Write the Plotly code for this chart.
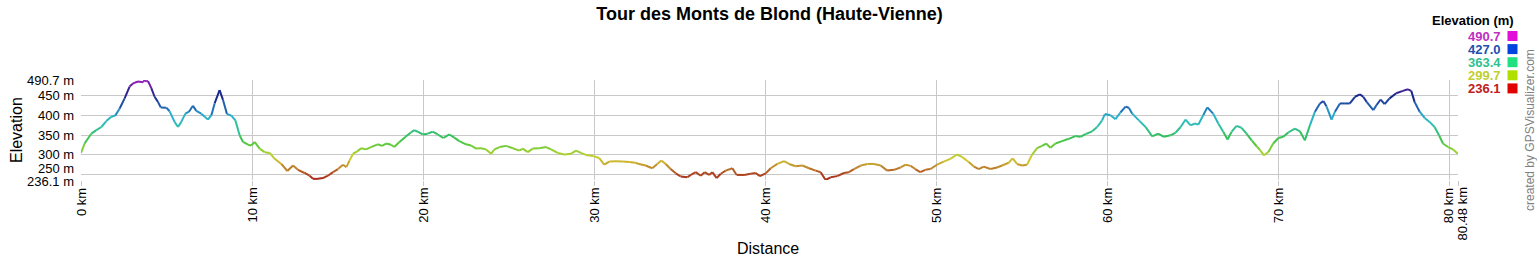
import plotly.graph_objects as go
from plotly.colors import sample_colorscale

# ---- data ----
dist_km = [0.0, 0.21, 0.6, 0.9, 1.19, 1.48, 1.77, 2.0, 2.26, 2.55, 2.84, 3.04, 3.33, 3.62, 3.72, 3.82, 3.92,
           4.11, 4.3, 4.5, 4.66, 4.99, 5.18, 5.47, 5.67, 5.86, 6.1, 6.31, 6.54, 6.74, 7.03, 7.23, 7.42, 7.62,
           7.81, 8.1, 8.3, 8.53, 8.79, 9.02, 9.27, 9.47, 9.76, 9.95, 10.15, 10.44, 10.73, 11.03, 11.32, 11.71,
           12.06, 12.39, 12.68, 13.07, 13.36, 13.56, 13.85, 14.14, 14.43, 14.73, 15.02, 15.31, 15.51, 15.7,
           15.9, 16.15, 16.37, 16.66, 16.95, 17.34, 17.59, 17.83, 18.12, 18.31, 18.61, 18.99, 19.28, 19.48,
           19.68, 19.97, 20.26, 20.55, 20.85, 21.18, 21.53, 21.82, 22.11, 22.5, 22.8, 23.09, 23.38, 23.67,
           23.97, 24.17, 24.46, 24.85, 25.24, 25.62, 25.82, 26.11, 26.4, 26.79, 27.18, 27.47, 27.86, 28.25,
           28.64, 28.93, 29.22, 29.51, 29.94, 30.29, 30.58, 30.88, 31.27, 31.66, 32.05, 32.4, 32.61, 33.0,
           33.39, 33.68, 33.92, 34.17, 34.46, 34.76, 35.05, 35.44, 35.64, 35.93, 36.22, 36.45, 36.71, 36.9,
           37.15, 37.39, 37.68, 38.07, 38.32, 38.75, 39.14, 39.43, 39.68, 40.02, 40.31, 40.7, 41.09, 41.38,
           41.77, 42.16, 42.55, 42.94, 43.23, 43.52, 43.81, 44.2, 44.59, 44.88, 45.18, 45.57, 45.96, 46.35,
           46.74, 47.12, 47.51, 47.9, 48.2, 48.49, 48.76, 49.05, 49.35, 49.64, 50.03, 50.42, 50.81, 51.2,
           51.49, 51.88, 52.17, 52.47, 52.76, 53.15, 53.54, 53.83, 54.22, 54.45, 54.71, 55.0, 55.29, 55.58,
           55.88, 56.17, 56.41, 56.66, 56.95, 57.34, 57.73, 58.12, 58.41, 58.71, 59.1, 59.39, 59.68, 59.84,
           60.17, 60.46, 60.75, 61.05, 61.24, 61.44, 61.83, 62.22, 62.61, 62.96, 63.29, 63.68, 63.98, 64.27,
           64.56, 64.85, 65.1, 65.3, 65.59, 65.83, 66.17, 66.47, 66.76, 67.01, 67.25, 67.54, 67.83, 68.12,
           68.42, 68.71, 68.91, 69.14, 69.39, 69.68, 69.98, 70.27, 70.56, 70.95, 71.24, 71.53, 71.83, 72.12,
           72.41, 72.61, 72.8, 73.09, 73.29, 73.58, 73.87, 74.16, 74.46, 74.75, 74.94, 75.14, 75.53, 75.72,
           75.96, 76.19, 76.48, 76.87, 77.26, 77.55, 77.75, 77.94, 78.24, 78.53, 78.82, 79.11, 79.37, 79.6,
           79.9, 80.19, 80.48]
elev_m = [305, 329, 354, 363, 371, 386, 397, 400, 418, 444, 474, 482, 487, 485, 490.7, 487, 488,
          470, 448, 435, 421, 420, 411, 384, 371, 384, 405, 410, 425, 412, 405, 397, 390, 401,
          431, 465, 440, 404, 400, 388, 350, 333, 326, 324, 333, 316, 307, 305, 290, 277,
          259, 273, 262, 254, 247, 239, 239, 241, 247, 256, 264, 275, 269, 286,
          303, 309, 317, 314, 320, 327, 323, 329, 326, 320, 333, 347, 357, 363,
          359, 352, 354, 359, 352, 343, 352, 344, 335, 327, 324, 316, 317, 314,
          303, 314, 320, 323, 317, 311, 316, 307, 316, 317, 320, 314, 305, 301,
          303, 311, 305, 300, 297, 292, 275, 283, 284, 283, 282, 280, 277, 273,
          266, 277, 286, 277, 264, 253, 245, 243, 249, 256, 247, 256, 249, 256,
          241, 252, 260, 266, 249, 249, 252, 254, 246, 253, 266, 277, 284, 277,
          271, 273, 266, 260, 256, 236.1, 243, 246, 254, 256, 264, 273, 277, 277,
          273, 260, 262, 268, 275, 272, 264, 256, 262, 264, 275, 283, 290, 301,
          295, 282, 271, 264, 270, 264, 268, 273, 280, 291, 277, 273, 275, 300,
          317, 323, 329, 318, 329, 335, 341, 348, 346, 353, 360, 371, 388, 404,
          401, 391, 408, 423, 420, 405, 388, 371, 347, 354, 346, 350, 357, 371,
          390, 375, 380, 377, 401, 421, 405, 380, 359, 339, 359, 374, 369, 354,
          337, 322, 312, 299, 307, 329, 343, 346, 357, 367, 360, 337, 376, 410,
          431, 437, 423, 390, 410, 431, 431, 431, 448, 454, 448, 435, 414, 427,
          441, 429, 444, 457, 463, 467, 463, 435, 410, 394, 384, 371, 350, 329,
          320, 314, 303]

x_ticks = [0, 10, 20, 30, 40, 50, 60, 70, 80, 80.48]
x_tick_text = ["0 km", "10 km", "20 km", "30 km", "40 km", "50 km", "60 km", "70 km", "80 km", "80.48 km"]
y_ticks = [236.1, 250, 300, 350, 400, 450, 490.7]
y_tick_text = ["236.1 m", "250 m", "300 m", "350 m", "400 m", "450 m", "490.7 m"]
legend_values = [490.7, 427.0, 363.4, 299.7, 236.1]

# ---- styling ----
FONT = "Arial, Liberation Sans, sans-serif"
line_scale = [
    [0.00, "#a82418"], [0.07, "#b04a20"], [0.13, "#bf8a2c"], [0.21, "#d2cc30"],
    [0.29, "#98d030"], [0.37, "#50c840"], [0.45, "#30c060"], [0.55, "#30c0b0"],
    [0.64, "#28b0cc"], [0.72, "#2066b4"], [0.84, "#18288a"], [0.93, "#5a1c98"],
    [1.00, "#a020c0"],
]
swatch_colors = ["#e010d8", "#0044e0", "#20e080", "#b0e000", "#e00000"]
label_colors = ["#c030c0", "#2050b0", "#30c090", "#c0d030", "#c02020"]

vmin, vmax = min(elev_m), max(elev_m)

fig = go.Figure()
for i in range(len(dist_km) - 1):
    mid = (elev_m[i] + elev_m[i + 1]) / 2
    c = sample_colorscale(line_scale, [(mid - vmin) / (vmax - vmin)])[0]
    fig.add_trace(go.Scatter(
        x=[dist_km[i], dist_km[i + 1]], y=[elev_m[i], elev_m[i + 1]],
        mode="lines", line=dict(color=c, width=2), hoverinfo="skip", showlegend=False))

fig.update_layout(
    width=1537, height=260,
    margin=dict(l=81, r=79, t=80, b=80),
    paper_bgcolor="white", plot_bgcolor="white",
    font=dict(family=FONT, size=13, color="black"),
    title=dict(text="<b>Tour des Monts de Blond (Haute-Vienne)</b>", x=0.5, xanchor="center",
               xref="paper", yref="container", y=1 - 14 / 260, yanchor="middle",
               font=dict(family=FONT, size=18, color="black")),
    showlegend=False,
)
fig.update_xaxes(range=[0, 80.48], tickvals=x_ticks, showticklabels=False,
                 showgrid=True, gridcolor="#c8c8c8", gridwidth=1, zeroline=False,
                 ticks="outside", ticklen=5, tickcolor="#c8c8c8", showline=False)
fig.update_yaxes(range=[236.1, 490.7], tickvals=y_ticks, showticklabels=False,
                 showgrid=True, gridcolor="#c8c8c8", gridwidth=1, zeroline=False,
                 ticks="", showline=False)

W0, W1, H0, H1 = 81, 1458, 80, 180


def px(xp):
    return (xp - W0) / (W1 - W0)


def py(yp):
    return (H1 - yp) / (H1 - H0)


ann = []
# y tick labels (placed on the y axis values)
y_shift = {250: 6, 236.1: -1}
for v, t in zip(y_ticks, y_tick_text):
    ann.append(dict(text=t, x=0, xref="paper", y=v, yref="y", xanchor="right", yanchor="middle",
                    xshift=-5, yshift=y_shift.get(v, 0), showarrow=False,
                    font=dict(family=FONT, size=13, color="black")))
# x tick labels (placed on the x axis values)
x_shift = {80: -1, 80.48: 4}
for v, t in zip(x_ticks, x_tick_text):
    ann.append(dict(text=t, x=v, xref="x", y=0, yref="paper", xanchor="center", yanchor="top",
                    textangle=-90, yshift=-6, xshift=x_shift.get(v, 0), showarrow=False,
                    font=dict(family=FONT, size=13, color="black")))

ann.append(dict(text="Elevation", x=px(16), y=py(130), xref="paper", yref="paper", textangle=-90,
                xanchor="center", yanchor="middle", showarrow=False,
                font=dict(family=FONT, size=16, color="black")))
ann.append(dict(text="Distance", x=px(768), y=py(248), xref="paper", yref="paper",
                xanchor="center", yanchor="middle", showarrow=False,
                font=dict(family=FONT, size=16, color="black")))
ann.append(dict(text="<b>Elevation (m)</b>", x=px(1516), y=py(21), xref="paper", yref="paper",
                xanchor="right", yanchor="middle", showarrow=False,
                font=dict(family=FONT, size=13, color="black")))
ann.append(dict(text="created by GPSVisualizer.com", x=px(1530), y=py(130), xref="paper", yref="paper",
                textangle=-90, xanchor="center", yanchor="middle", showarrow=False,
                font=dict(family=FONT, size=12, color="#808080")))
shapes = []
for k, (val, sc, lc) in enumerate(zip(legend_values, swatch_colors, label_colors)):
    yc = 36 + k * 13.1
    ann.append(dict(text="<b>%.1f</b>" % val, x=px(1503), y=py(yc), xref="paper", yref="paper",
                    xanchor="right", yanchor="middle", showarrow=False,
                    font=dict(family=FONT, size=13, color=lc)))
    shapes.append(dict(type="rect", xref="paper", yref="paper",
                       x0=px(1507.5), x1=px(1517.5), y0=py(yc + 5), y1=py(yc - 5),
                       fillcolor=sc, line=dict(width=0)))

fig.update_layout(annotations=ann, shapes=shapes)

fig.write_html("out.html")
